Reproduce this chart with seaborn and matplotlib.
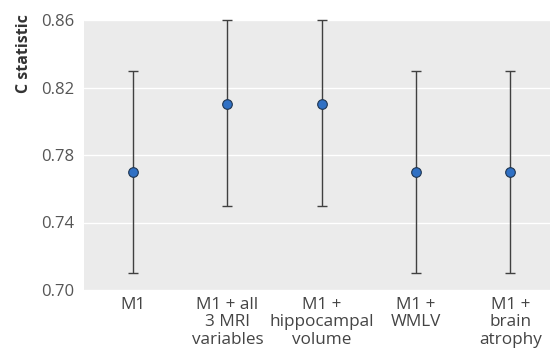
import matplotlib
matplotlib.use("Agg")
import matplotlib.pyplot as plt
import seaborn as sns
import pandas as pd

# 各模型的C统计量及95%置信区间
models = ["M1", "M1 + all\n3 MRI\nvariables", "M1 +\nhippocampal\nvolume",
          "M1 +\nWMLV", "M1 +\nbrain\natrophy"]
c_stat = [0.77, 0.81, 0.81, 0.77, 0.77]
ci_low = [0.71, 0.75, 0.75, 0.71, 0.71]
ci_high = [0.83, 0.86, 0.86, 0.83, 0.83]
yticks = [0.70, 0.74, 0.78, 0.82, 0.86]

sns.set_theme(style="darkgrid")
plt.rcParams["font.family"] = ["Open Sans", "DejaVu Sans"]

df = pd.DataFrame({"model": models, "c": c_stat, "lo": ci_low, "hi": ci_high})

fig = plt.figure(figsize=(5.5, 3.51), dpi=100)
ax = fig.add_axes([84 / 550, 61 / 351, 466 / 550, 270 / 351])
ax.set_facecolor("#ebebeb")

x = list(range(len(models)))
ax.errorbar(x, df["c"], yerr=[df["c"] - df["lo"], df["hi"] - df["c"]],
            fmt="none", ecolor="#404040", elinewidth=1.0, capsize=3.3, capthick=1.0,
            zorder=2, clip_on=False)
sns.scatterplot(x=x, y=df["c"], ax=ax, s=48, color="#2f70c4",
                edgecolor="#1f3550", linewidth=0.8, zorder=3, legend=False)

ax.set_xlim(-0.52, 4.42)
ax.set_ylim(0.70, 0.86)
ax.set_yticks(yticks)
ax.set_yticklabels([f"{v:.2f}" for v in yticks])
ax.set_xticks(x)
ax.set_xticklabels(models, linespacing=1.12)
ax.grid(axis="x", visible=False)
ax.grid(axis="y", color="white", linewidth=1.0)
ax.tick_params(axis="y", labelsize=12, labelcolor="#555555", pad=4,
               length=3, color="white", left=True)
ax.tick_params(axis="x", labelsize=12.3, labelcolor="#444444", pad=2,
               length=3, color="white", bottom=True)
ax.set_ylabel("C statistic", fontsize=11.5, fontweight="bold", color="#333333")
ax.yaxis.set_label_coords(-0.112, 0.874)
ax.set_xlabel("")
for s in ax.spines.values():
    s.set_visible(False)

fig.savefig("out.png", dpi=100)
